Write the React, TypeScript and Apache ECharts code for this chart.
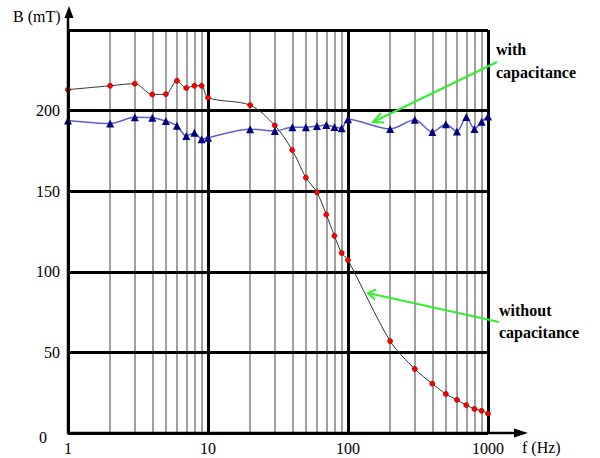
import React, { useEffect, useRef } from "react";
import * as echarts from "echarts";

const freq = [1, 2, 3, 4, 5, 6, 7, 8, 9, 10, 20, 30, 40, 50, 60, 70, 80, 90, 100, 200, 300, 400, 500, 600, 700, 800, 900, 1000];
const withoutCap = [213, 215.4, 216.7, 210, 210.2, 218.5, 214, 215.4, 215.4, 208, 203.4, 190.8, 175.5, 158.4, 149.3, 135.5, 122.3, 111.7, 107.2, 57, 39.7, 30.6, 24.2, 20.6, 17.3, 14.9, 13.8, 12];
const withCap = [193.9, 192, 195.8, 195.6, 193.5, 190.6, 184.2, 186.3, 182.3, 183.2, 188.5, 187.3, 189.7, 189.7, 190.4, 191, 189.8, 189, 194.7, 188.6, 194.3, 186.7, 191.6, 187.1, 196, 188.6, 193.1, 196.4];
const minorFreq = [2, 3, 4, 5, 6, 7, 8, 9, 20, 30, 40, 50, 60, 70, 80, 90, 200, 300, 400, 500, 600, 700, 800, 900];
const yMax = 250;
const yStep = 50;

const FONT = "Liberation Serif";

export default function App() {
  const ref = useRef<HTMLDivElement>(null);
  useEffect(() => {
    if (!ref.current) return;
    const chart = echarts.init(ref.current, null, { renderer: "svg" });
    const green = "#33ee33";
    const txt = (x: number, y: number, text: string, bold: boolean) => ({
      type: "text",
      z: 10,
      x,
      y,
      style: bold
        ? { text, fontFamily: FONT, fontSize: 16, fontWeight: "bold", fill: "#000", verticalAlign: "middle" }
        : { text, fontFamily: FONT, fontSize: 16, fill: "#000", verticalAlign: "middle" },
    });
    chart.setOption({
      animation: false,
      backgroundColor: "#fff",
      textStyle: { fontFamily: FONT },
      grid: { left: 68, right: 112, top: 30, bottom: 25 },
      xAxis: {
        type: "log",
        logBase: 10,
        min: 1,
        max: 1000,
        z: 1,
        axisLine: { show: false },
        axisTick: { show: false },
        axisLabel: {
          color: "#000",
          fontFamily: FONT,
          fontSize: 16,
          margin: 7,
          formatter: (v: number) => String(Math.round(v)),
        },
        splitLine: { show: true, lineStyle: { color: "#000", width: 3 } },
        minorSplitLine: { show: false },
      },
      yAxis: {
        type: "value",
        min: 0,
        max: yMax,
        interval: yStep,
        z: 1,
        axisLine: { show: false },
        axisTick: { show: false },
        axisLabel: {
          color: "#000",
          fontFamily: FONT,
          fontSize: 16,
          margin: 8,
          formatter: (v: number) => (v === yMax ? "" : v === 0 ? "{z|0}" : String(v)),
          rich: { z: { fontFamily: FONT, fontSize: 16, color: "#000", padding: [8, 13, 0, 0] } },
        },
        splitLine: { show: true, lineStyle: { color: "#000", width: 3 } },
      },
      series: [
        {
          type: "line",
          name: "grid",
          data: [],
          silent: true,
          markLine: {
            z: 0.5,
            silent: true,
            symbol: "none",
            label: { show: false },
            lineStyle: { color: "#a0a0a0", width: 2, type: "solid" },
            data: minorFreq.map((f) => ({ xAxis: f })),
          },
        },
        {
          type: "line",
          name: "without capacitance",
          data: freq.map((f, i) => [f, withoutCap[i]]),
          smooth: 0.3,
          lineStyle: { color: "#333", width: 1 },
          symbol: "circle",
          symbolSize: 5,
          itemStyle: { color: "#ff0000", borderColor: "#aa0000", borderWidth: 0.8 },
          z: 3,
        },
        {
          type: "line",
          name: "with capacitance",
          data: freq.map((f, i) => [f, withCap[i]]),
          smooth: 0.3,
          lineStyle: { color: "#6060c8", width: 1.5 },
          symbol: "triangle",
          symbolSize: 8,
          itemStyle: { color: "#000080" },
          z: 3,
        },
      ],
      graphic: [
        { type: "line", z: 10, shape: { x1: 68, y1: 434, x2: 68, y2: 14 }, style: { stroke: "#000", lineWidth: 2.5 } },
        { type: "polygon", z: 10, shape: { points: [[69, 6], [64.5, 18], [73.5, 18]] }, style: { fill: "#000" } },
        { type: "line", z: 10, shape: { x1: 67, y1: 433, x2: 518, y2: 433 }, style: { stroke: "#000", lineWidth: 2.5 } },
        { type: "polygon", z: 10, shape: { points: [[528, 433], [514, 428.5], [514, 437.5]] }, style: { fill: "#000" } },
        txt(13, 16, "B (mT)", false),
        txt(522, 447, "f (Hz)", false),
        txt(496, 49, "with", true),
        txt(496, 72, "capacitance", true),
        txt(499, 310, "without", true),
        txt(499, 332, "capacitance", true),
        { type: "line", z: 10, shape: { x1: 497, y1: 62, x2: 373, y2: 122 }, style: { stroke: green, lineWidth: 2 } },
        { type: "polyline", z: 10, shape: { points: [[381, 113], [373, 122], [384, 122.5]] }, style: { stroke: green, lineWidth: 2, fill: null } },
        { type: "line", z: 10, shape: { x1: 499, y1: 322, x2: 368, y2: 293 }, style: { stroke: green, lineWidth: 2 } },
        { type: "polyline", z: 10, shape: { points: [[376, 289.5], [368, 293], [375, 299.5]] }, style: { stroke: green, lineWidth: 2, fill: null } },
      ],
    });
    return () => chart.dispose();
  }, []);
  return (
    <div
      ref={ref}
      style={{ position: "fixed", left: 0, top: 0, width: 600, height: 458, background: "#fff" }}
    />
  );
}
